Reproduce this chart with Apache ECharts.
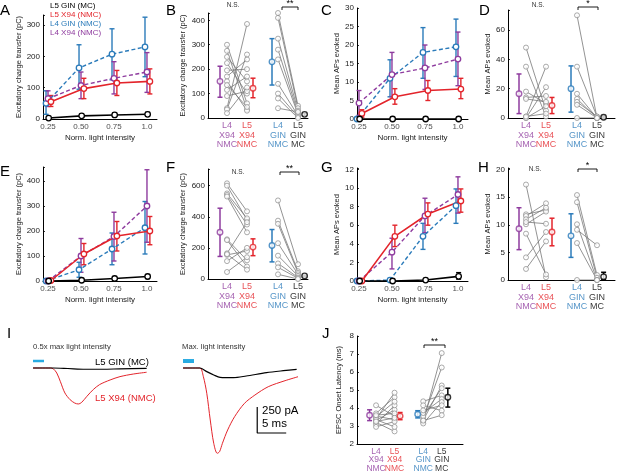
<!DOCTYPE html>
<html>
<head>
<meta charset="utf-8">
<script src="https://cdn.jsdelivr.net/npm/echarts@6/dist/echarts.min.js"></script>
<style>
  html, body { margin: 0; padding: 0; background: #fff; }
  #chart { width: 617px; height: 473px; }
</style>
</head>
<body>
<div id="chart"></div>
<script>
var FONT = '"Liberation Sans", Arial, sans-serif';
var BLACK = '#000', RED = '#e3242b', BLUE = '#2b7bba', PURPLE = '#8e3b9e', GRAY = '#8a8a8a', LIGHT = '#29abe2';

// ---- shared labels
var intensity = [0.25, 0.5, 0.75, 1.0];
var intensityLabels = ['0.25', '0.50', '0.75', '1.0'];
var groupLabels = ['L4\nX94\nNMC', 'L5\nX94\nNMC', 'L4\nGIN\nNMC', 'L5\nGIN\nMC'];
var legendLabels = ['L5 GIN (MC)', 'L5 X94 (NMC)', 'L4 GIN (NMC)', 'L4 X94 (NMC)'];

// ---- A: charge transfer vs light (mean, low, high)
var aGin5 = [3, 10, 13, 15],      aGin5Lo = [1, 6, 8, 9],        aGin5Hi = [5, 14, 18, 21];
var aX945 = [55, 97, 115, 120],   aX945Lo = [40, 65, 75, 80],    aX945Hi = [75, 130, 155, 160];
var aGin4 = [50, 163, 207, 230],  aGin4Lo = [15, 95, 125, 135],  aGin4Hi = [90, 237, 288, 325];
var aX944 = [65, 107, 130, 150],  aX944Lo = [40, 65, 80, 85],    aX944Hi = [90, 150, 183, 212];

// ---- C: mean APs vs light
var cGin5 = [0, 0, 0, 0],         cGin5Lo = [0, 0, 0, 0],        cGin5Hi = [0, 0, 0, 0];
var cX945 = [1.5, 6, 7.7, 8.1],   cX945Lo = [0.5, 4, 5, 5.5],    cX945Hi = [2.5, 8.2, 10.4, 11];
var cGin4 = [0, 11, 18, 19.5],    cGin4Lo = [0, 6, 11, 11.5],    cGin4Hi = [0, 16, 24.7, 27];
var cX944 = [4.3, 12, 13.8, 16.2],cX944Lo = [1, 6, 8, 9],        cX944Hi = [7.7, 18, 20, 23.5];

// ---- E: charge transfer vs light (second condition)
var eGin5 = [0, 3, 10, 18],       eGin5Lo = [0, 1, 7, 10],       eGin5Hi = [0, 5, 13, 25];
var eX945 = [2, 108, 180, 200],   eX945Lo = [0, 65, 120, 145],   eX945Hi = [4, 150, 238, 258];
var eGin4 = [0, 45, 128, 213],    eGin4Lo = [0, 15, 65, 108],    eGin4Hi = [0, 75, 192, 318];
var eX944 = [0, 100, 178, 300],   eX944Lo = [0, 35, 80, 155],    eX944Hi = [0, 170, 275, 445];

// ---- G: mean APs vs light (second condition)
var gGin5 = [0, 0, 0.1, 0.5],     gGin5Lo = [0, 0, 0, 0.2],      gGin5Hi = [0, 0, 0.2, 0.9];
var gX945 = [0, 4.8, 7.2, 8.6],   gX945Lo = [0, 3.7, 6.0, 7.4],  gX945Hi = [0, 6.0, 8.4, 9.9];
var gGin4 = [0, 0.1, 4.8, 8.1],   gGin4Lo = [0, 0, 3.4, 6.2],    gGin4Hi = [0, 0.2, 6.2, 9.9];
var gX944 = [0, 3.1, 7.0, 9.3],   gX944Lo = [0, 1.3, 5.2, 7.3],  gX944Hi = [0, 4.6, 8.9, 11.2];

// ---- B: paired cells, charge transfer
var bL4X94 = [300, 275, 250, 225, 195, 170, 150, 135, 115, 90, 40, 35, 20];
var bL5X94 = [60, 35, 150, 100, 200, 240, 30, 45, 170, 110, 385, 260, 125];
var bL4Gin = [430, 410, 325, 280, 240, 140, 100, 80, 40];
var bL5Gin = [50, 40, 30, 20, 15, 10, 5, 0, 25];
var bMean = [150, 122, 230, 15], bLo = [85, 83, 135, 10], bHi = [212, 163, 325, 20];

// ---- D: paired cells, APs
var dL4X94 = [48, 35, 18, 14, 13, 1, 0, 0, 1];
var dL5X94 = [5, 1, 10, 15, 11, 35, 21, 8, 3];
var dL4Gin = [70, 35, 16.5, 13, 11, 9, 0];
var dL5Gin = [0, 1, 0, 0, 1, 0, 0];
var dMean = [16.5, 8.5, 20, 0.5], dLo = [3, 3, 4, 0], dHi = [30, 14, 35.5, 1];

// ---- F
var fL4X94 = [615, 600, 550, 540, 530, 255, 165, 155, 115, 45, 250, 160];
var fL5X94 = [435, 380, 390, 350, 300, 120, 365, 180, 200, 140, 80, 60];
var fL4Gin = [505, 375, 355, 230, 150, 100, 75, 30];
var fL5Gin = [95, 50, 40, 30, 20, 10, 5, 0];
var fMean = [300, 205, 215, 20], fLo = [145, 150, 110, 15], fHi = [455, 258, 318, 25];

// ---- H
var hL4X94 = [17.3, 11.9, 11.6, 10.1, 8.4, 4.1, 2.0, 11.0, 10.5];
var hL5X94 = [0.5, 12.7, 13.9, 12.4, 1.0, 8.7, 7.0, 13.1, 10.2];
var hL4Gin = [15.4, 14.1, 10.1, 9.1, 6.7, 0];
var hL5Gin = [0.9, 0.4, 0, 6.3, 0, 0];
var hMean = [9.3, 8.7, 8.0, 0.6], hLo = [5.5, 6.2, 4.1, 0.1], hHi = [13.1, 11.2, 12.0, 1.4];

// ---- J: onset latency
var jL4X94 = [4.15, 3.7, 3.55, 3.4, 3.3, 3.2, 3.1, 2.95, 3.5, 3.35, 3.6, 3.25];
var jL5X94 = [3.55, 4.6, 3.35, 4.85, 3.9, 2.7, 4.15, 3.25, 4.35, 2.95, 3.7, 3.45];
var jL4Gin = [3.23, 3.45, 3.32, 3.55, 4.37, 3.72, 3.14, 3.87, 4.15, 3.3];
var jL5Gin = [7.05, 6.25, 5.25, 5.1, 4.7, 4.5, 4.33, 4.15, 3.85, 3.6];
var jMean = [3.6, 3.55, 3.65, 4.6], jLo = [3.3, 3.35, 3.45, 4.05], jHi = [3.9, 3.75, 3.85, 5.1];

// ---- I: example EPSC traces (ms, pA)
var halfRedT  = [0, 3.0, 3.5, 4.1, 4.7, 5.5, 6.4, 7.2, 7.8, 8.4, 9.3, 10.4, 11.5, 13.3, 15.0, 17.3, 19.6];
var halfRedI  = [0, 0, -8, -48, -128, -240, -305, -337, -346, -330, -272, -207, -159, -115, -83, -58, -41];
var halfBlkT  = [0, 3.5, 6, 9, 12, 15, 19.6];
var halfBlkI  = [0, 0, -5, -12, -12, -8, -3];
var maxRedT   = [0, 2.9, 3.5, 4.1, 4.7, 5.3, 5.9, 6.3, 6.8, 7.7, 8.9, 10.6, 12.4, 14.7, 17.6, 19.9];
var maxRedI   = [0, 0, -80, -243, -500, -724, -820, -805, -724, -596, -468, -340, -260, -180, -122, -83];
var maxBlkT   = [0, 2.9, 4.1, 5.3, 6.4, 8.7, 10.9, 14.4, 17.3, 19.6];
var maxBlkI   = [0, 0, -35, -67, -90, -93, -77, -45, -26, -13];
var stimT = [0, 1.9], stimLevel = 67;
var scaleBarT = [12.8, 17.8], scaleBarI = [-375, -625];

// ---------------------------------------------------------------
var grids = [], xAxes = [], yAxes = [], series = [], graphics = [];
var pos = [1, 2, 3.55, 4.55], meanPos = [0.65, 2.3, 3.25, 4.88];
var stripColors = [PURPLE, RED, BLUE, BLACK];

function addGrid(r) {
  grids.push({ left: r[0], top: r[1], width: r[2], height: r[3], containLabel: false });
  return grids.length - 1;
}

function xAxisCfg(gi, min, max, name, show) {
  return {
    gridIndex: gi, type: 'value', min: min, max: max, show: show !== false,
    name: name, nameLocation: 'middle', nameGap: 15,
    nameTextStyle: { fontSize: 8, color: '#222', fontFamily: FONT },
    axisLine: { show: true, onZero: false, lineStyle: { color: '#000', width: 1 } },
    axisTick: { show: false }, axisLabel: { show: false }, splitLine: { show: false }
  };
}

function yAxisCfg(gi, min, max, itv, name, gap, show) {
  return {
    gridIndex: gi, type: 'value', min: min, max: max, interval: itv, show: show !== false,
    name: name, nameLocation: 'middle', nameGap: gap,
    nameTextStyle: { fontSize: 7.5, color: '#222', fontFamily: FONT },
    axisLine: { show: true, onZero: false, lineStyle: { color: '#000', width: 1 } },
    axisTick: { show: true, inside: true, length: 2, lineStyle: { color: '#000', width: 0.8 } },
    axisLabel: {
      fontSize: 8, color: '#222', fontFamily: FONT, margin: 3,
      formatter: function (v) { return Math.abs(v / itv - Math.round(v / itv)) < 1e-6 ? String(v) : ''; }
    },
    splitLine: { show: false }
  };
}

function errRender(colors, cap, width) {
  return function (params, api) {
    var x = api.value(0), lo = api.value(1), hi = api.value(2);
    if (!(hi > lo)) return null;
    var c = Array.isArray(colors) ? colors[params.dataIndex] : colors;
    var a = api.coord([x, lo]), b = api.coord([x, hi]);
    var st = { stroke: c, lineWidth: width };
    return { type: 'group', children: [
      { type: 'line', shape: { x1: a[0], y1: a[1], x2: b[0], y2: b[1] }, style: st },
      { type: 'line', shape: { x1: a[0] - cap, y1: a[1], x2: a[0] + cap, y2: a[1] }, style: st },
      { type: 'line', shape: { x1: b[0] - cap, y1: b[1], x2: b[0] + cap, y2: b[1] }, style: st }
    ] };
  };
}

function pairRender(params, api) {
  var a = api.coord([api.value(0), api.value(1)]);
  var b = api.coord([api.value(2), api.value(3)]);
  return { type: 'line', shape: { x1: a[0], y1: a[1], x2: b[0], y2: b[1] },
           style: { stroke: '#777', lineWidth: 0.8 } };
}

function labelSeries(gi, xs, y, labels, colors, size, lh, dist) {
  return {
    type: 'scatter', xAxisIndex: gi, yAxisIndex: gi, symbolSize: 0, silent: true, clip: false,
    data: xs.map(function (x, i) {
      return { value: [x, y], label: { formatter: labels[i], color: colors ? colors[i] : '#222' } };
    }),
    label: { show: true, position: 'bottom', distance: dist, fontSize: size, lineHeight: lh, fontFamily: FONT }
  };
}

function linePanel(r, xr, yr, yName, yGap, sets) {
  var gi = addGrid(r);
  xAxes.push(xAxisCfg(gi, xr[0], xr[1], 'Norm. light intensity'));
  yAxes.push(yAxisCfg(gi, yr[0], yr[1], yr[2], yName, yGap));
  sets.forEach(function (s) {
    var xs = intensity.map(function (v) { return v + s.off; });
    series.push({ type: 'custom', xAxisIndex: gi, yAxisIndex: gi, silent: true, z: 2,
      renderItem: errRender(s.color, 2.5, 1.4),
      encode: { x: 0, y: [1, 2] },
      data: xs.map(function (x, i) { return [x, s.lo[i], s.hi[i]]; }) });
    series.push({ type: 'line', xAxisIndex: gi, yAxisIndex: gi, silent: true, z: 3,
      data: xs.map(function (x, i) { return [x, s.mean[i]]; }),
      symbol: 'circle', symbolSize: 5.5, showSymbol: true,
      lineStyle: { color: s.color, width: s.dashed ? 1.4 : 1.6, type: s.dashed ? [4, 2.5] : 'solid' },
      itemStyle: { color: '#fff', borderColor: s.color, borderWidth: 1.3 } });
  });
  series.push(labelSeries(gi, intensity, yr[0], intensityLabels, null, 8, 9, 3));
}

function sets4(g5, g5l, g5h, x5, x5l, x5h, g4, g4l, g4h, x4, x4l, x4h) {
  return [
    { mean: g4, lo: g4l, hi: g4h, color: BLUE, dashed: true, off: -0.015 },
    { mean: x4, lo: x4l, hi: x4h, color: PURPLE, dashed: true, off: 0 },
    { mean: x5, lo: x5l, hi: x5h, color: RED, dashed: false, off: 0.022 },
    { mean: g5, lo: g5l, hi: g5h, color: BLACK, dashed: false, off: 0.005 }
  ];
}

function stripPanel(r, xr, yr, yName, yGap, l4x, l5x, l4g, l5g, mean, lo, hi, lab) {
  var gi = addGrid(r);
  xAxes.push(xAxisCfg(gi, xr[0], xr[1], ''));
  yAxes.push(yAxisCfg(gi, yr[0], yr[1], yr[2], yName, yGap));
  var pairs = [];
  l4x.forEach(function (v, i) { pairs.push([pos[0], v, pos[1], l5x[i]]); });
  l4g.forEach(function (v, i) { pairs.push([pos[2], v, pos[3], l5g[i]]); });
  series.push({ type: 'custom', xAxisIndex: gi, yAxisIndex: gi, silent: true, z: 2,
    renderItem: pairRender, encode: { x: [0, 2], y: [1, 3] }, data: pairs });
  var pts = [];
  pairs.forEach(function (p) { pts.push([p[0], p[1]]); pts.push([p[2], p[3]]); });
  series.push({ type: 'scatter', xAxisIndex: gi, yAxisIndex: gi, silent: true, z: 3, clip: false,
    data: pts, symbolSize: 5,
    itemStyle: { color: '#fff', borderColor: GRAY, borderWidth: 0.9 } });
  series.push({ type: 'custom', xAxisIndex: gi, yAxisIndex: gi, silent: true, z: 4,
    renderItem: errRender(stripColors, 2.5, 1.5), encode: { x: 0, y: [1, 2] },
    data: meanPos.map(function (x, i) { return [x, lo[i], hi[i]]; }) });
  series.push({ type: 'scatter', xAxisIndex: gi, yAxisIndex: gi, silent: true, z: 5, clip: false,
    symbolSize: 5.5,
    data: meanPos.map(function (x, i) {
      return { value: [x, mean[i]], itemStyle: { color: '#fff', borderColor: stripColors[i], borderWidth: 1.4 } };
    }) });
  series.push(labelSeries(gi, pos, yr[0], groupLabels, stripColors, lab[0], lab[1], 3));
}

// ---- row 1
linePanel([43, 15, 114, 104], [0.212, 1.076], [0, 332, 100], 'Excitatory charge transfer (pC)', 18,
  sets4(aGin5, aGin5Lo, aGin5Hi, aX945, aX945Lo, aX945Hi, aGin4, aGin4Lo, aGin4Hi, aX944, aX944Lo, aX944Hi));
stripPanel([208, 13, 100, 105], [0.05, 5.05], [0, 430, 100], 'Excitatory charge transfer (pC)', 21,
  bL4X94, bL5X94, bL4Gin, bL5Gin, bMean, bLo, bHi, [9, 9.5]);
linePanel([357, 8, 111, 111], [0.235, 1.076], [0, 30, 5], 'Mean APs evoked', 16,
  sets4(cGin5, cGin5Lo, cGin5Hi, cX945, cX945Lo, cX945Hi, cGin4, cGin4Lo, cGin4Hi, cX944, cX944Lo, cX944Hi));
stripPanel([508, 10, 107, 108], [0.1, 5.45], [0, 73.6, 20], 'Mean APs evoked', 16,
  dL4X94, dL5X94, dL4Gin, dL5Gin, dMean, dLo, dHi, [9, 9.5]);

// ---- row 2
linePanel([43, 167, 114, 114], [0.212, 1.076], [0, 456, 100], 'Excitatory charge transfer (pC)', 18,
  sets4(eGin5, eGin5Lo, eGin5Hi, eX945, eX945Lo, eX945Hi, eGin4, eGin4Lo, eGin4Hi, eX944, eX944Lo, eX944Hi));
stripPanel([208, 169, 100, 110], [0.05, 5.05], [0, 707, 200], 'Excitatory charge transfer (pC)', 21,
  fL4X94, fL5X94, fL4Gin, fL5Gin, fMean, fLo, fHi, [9, 9.5]);
linePanel([357, 168, 111, 113], [0.235, 1.076], [0, 12.15, 2], 'Mean APs evoked', 16,
  sets4(gGin5, gGin5Lo, gGin5Hi, gX945, gX945Lo, gX945Hi, gGin4, gGin4Lo, gGin4Hi, gX944, gX944Lo, gX944Hi));
stripPanel([508, 168, 107, 112], [0.1, 5.45], [0, 20.3, 5], 'Mean APs evoked', 13,
  hL4X94, hL5X94, hL4Gin, hL5Gin, hMean, hLo, hHi, [9, 9.5]);

// ---- row 3: traces
function tracePanel(r, redT, redI, blkT, blkI, stimWidth) {
  var gi = addGrid(r);
  xAxes.push(xAxisCfg(gi, 0, 19.66, '', false));
  yAxes.push(yAxisCfg(gi, -884.6, 269.2, 100, '', 0, false));
  series.push({ type: 'line', xAxisIndex: gi, yAxisIndex: gi, silent: true, symbol: 'none', z: 2,
    smooth: 0.3, data: redT.map(function (t, i) { return [t, redI[i]]; }),
    lineStyle: { color: RED, width: 1 } });
  series.push({ type: 'line', xAxisIndex: gi, yAxisIndex: gi, silent: true, symbol: 'none', z: 3,
    smooth: 0.3, data: blkT.map(function (t, i) { return [t, blkI[i]]; }),
    lineStyle: { color: BLACK, width: 1.2 } });
  series.push({ type: 'line', xAxisIndex: gi, yAxisIndex: gi, silent: true, symbol: 'none', z: 3,
    data: stimT.map(function (t) { return [t, stimLevel]; }),
    lineStyle: { color: LIGHT, width: stimWidth, cap: 'butt' } });
  return gi;
}
tracePanel([33, 340, 114, 120], halfRedT, halfRedI, halfBlkT, halfBlkI, 2.5);
var gi2 = tracePanel([183, 340, 114, 120], maxRedT, maxRedI, maxBlkT, maxBlkI, 4);
series.push({ type: 'line', xAxisIndex: gi2, yAxisIndex: gi2, silent: true, symbol: 'none',
  data: [[scaleBarT[0], scaleBarI[0]], [scaleBarT[0], scaleBarI[1]], [scaleBarT[1], scaleBarI[1]]],
  lineStyle: { color: BLACK, width: 1.2 } });

stripPanel([357, 336, 106, 108], [-0.03, 5.7], [2, 8, 1], 'EPSC Onset Latency (ms)', 14,
  jL4X94, jL5X94, jL4Gin, jL5Gin, jMean, jLo, jHi, [8.5, 8.5]);

// ---- annotations
function txt(x, y, s, size, color, align) {
  graphics.push({ type: 'text', silent: true, z: 10, style: {
    text: s, x: x, y: y, fill: color || '#222', fontSize: size, fontFamily: FONT,
    textAlign: align || 'left', align: align || 'left', textVerticalAlign: 'middle', verticalAlign: 'middle' } });
}
function bracket(x1, x2, y, h) {
  graphics.push({ type: 'polyline', silent: true, z: 10,
    shape: { points: [[x1, y + h], [x1, y], [x2, y], [x2, y + h]] },
    style: { stroke: '#000', lineWidth: 0.9, fill: null } });
}

[['A', 0, 11], ['B', 166, 11], ['C', 321, 11], ['D', 479, 11],
 ['E', 0, 172], ['F', 166, 168], ['G', 321, 168], ['H', 478, 168],
 ['I', 7, 334], ['J', 322, 334]].forEach(function (l) { txt(l[1], l[2], l[0], 15, '#000'); });

var legendColors = [BLACK, RED, BLUE, PURPLE];
legendLabels.forEach(function (s, i) { txt(50, 6 + i * 9, s, 8, legendColors[i]); });

txt(233, 5, 'N.S.', 6.5, '#333', 'center');
txt(538, 5, 'N.S.', 6.5, '#333', 'center');
txt(238, 172, 'N.S.', 6.5, '#333', 'center');
txt(535, 169, 'N.S.', 6.5, '#333', 'center');
bracket(282, 298, 7, 3);  txt(290, 4, '**', 9, '#000', 'center');
bracket(578, 598, 7, 3);  txt(588, 4, '*', 9, '#000', 'center');
bracket(280, 299, 172, 3); txt(289.5, 169, '**', 9, '#000', 'center');
bracket(578, 597, 169, 3); txt(587.5, 166, '*', 9, '#000', 'center');
bracket(424, 445, 345, 3); txt(434.5, 342, '**', 9, '#000', 'center');

txt(33, 347, '0.5x max light intensity', 7.7, '#333');
txt(182, 347, 'Max. light intensity', 7.7, '#333');
txt(95, 362, 'L5 GIN (MC)', 9.5, '#000');
txt(95, 398, 'L5 X94 (NMC)', 9.5, RED);
txt(262, 411, '250 pA', 11.5, '#000');
txt(262, 424, '5 ms', 11.5, '#000');

var chart = echarts.init(document.getElementById('chart'));
chart.setOption({
  animation: false,
  backgroundColor: '#fff',
  textStyle: { fontFamily: FONT },
  grid: grids,
  xAxis: xAxes,
  yAxis: yAxes,
  series: series,
  graphic: graphics
});
</script>
</body>
</html>
